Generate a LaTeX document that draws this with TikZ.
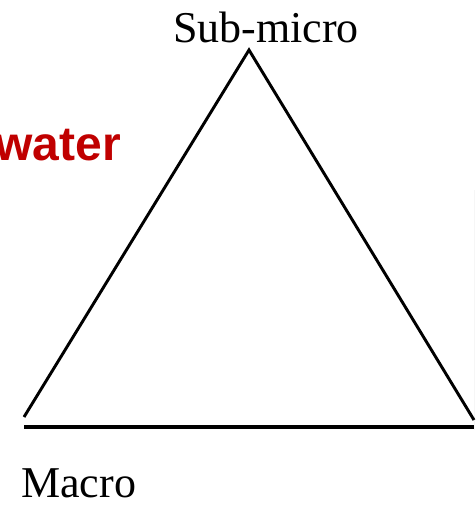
\documentclass[tikz,border=0pt]{standalone}
\usepackage{fontspec}
\setmainfont{Liberation Serif}
\newfontfamily\arialfont{Liberation Sans}
\definecolor{waterred}{HTML}{C00000}
\begin{document}
\begin{tikzpicture}[x=0.75pt,y=-0.75pt,
  lbl/.style={inner sep=0pt,anchor=base,font=\fontsize{33}{40}\selectfont},
  edge/.style={line width=2.2pt,black},
  baseedge/.style={line width=2.7pt,black}]
\useasboundingbox (0,0) rectangle (475,506);
\fill[white] (0,0) rectangle (475,506);
\coordinate (apex) at (249,50);
\coordinate (left) at (24,417);
\coordinate (right) at (474,420);
\coordinate (bl) at (24,427);
\coordinate (br) at (474,427);
\coordinate (gtop) at (474.5,190);
\coordinate (gbot) at (474.5,430);
\draw[gray!7,line width=0.8pt] (gtop) -- (gbot);
\draw[edge] (left) -- (apex) -- (right);
\draw[baseedge] (bl) -- (br);
\node[lbl] (sub) at (266,43) {Sub-micro};
\node[lbl,anchor=base west] (macro) at (21,497) {Macro};
\node[lbl,anchor=base east,font=\arialfont\bfseries\fontsize{36}{40}\selectfont,text=waterred] (water) at (121,160) {water};
\end{tikzpicture}
\end{document}
